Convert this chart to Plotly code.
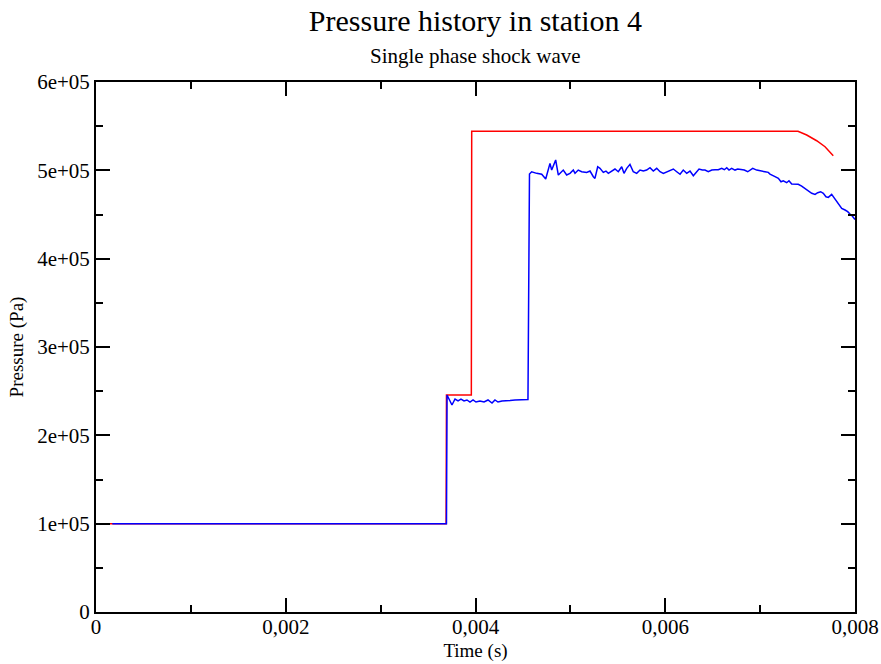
import plotly.graph_objects as go

# Red series (time in s, pressure in Pa)
red_t = [0.000140, 0.003690, 0.003694, 0.003956, 0.003960, 0.007399,
         0.007491, 0.007596, 0.007684, 0.007771]
red_p = [1.000e5, 1.000e5, 2.457e5, 2.457e5, 5.443e5, 5.443e5,
         5.400e5, 5.335e5, 5.267e5, 5.165e5]

# Blue series (time in s, pressure in Pa)
blue_t = [0.000172, 0.003694, 0.003700, 0.003752, 0.003784, 0.003816, 0.003847, 0.003879,
          0.003910, 0.003942, 0.003974, 0.004005, 0.004047, 0.004090, 0.004132, 0.004174,
          0.004205, 0.004237, 0.004279, 0.004321, 0.004364, 0.004416, 0.004469, 0.004522,
          0.004553, 0.004569, 0.004592, 0.004645, 0.004698, 0.004740, 0.004785, 0.004803,
          0.004845, 0.004873, 0.004925, 0.004961, 0.004996, 0.005031, 0.005049, 0.005083,
          0.005119, 0.005172, 0.005207, 0.005242, 0.005259, 0.005288, 0.005312, 0.005347,
          0.005375, 0.005400, 0.005435, 0.005470, 0.005505, 0.005541, 0.005565, 0.005594,
          0.005628, 0.005663, 0.005699, 0.005734, 0.005769, 0.005804, 0.005839, 0.005874,
          0.005910, 0.005945, 0.005980, 0.006015, 0.006050, 0.006085, 0.006121, 0.006156,
          0.006190, 0.006226, 0.006261, 0.006296, 0.006332, 0.006356, 0.006391, 0.006419,
          0.006454, 0.006490, 0.006525, 0.006559, 0.006595, 0.006623, 0.006648, 0.006672,
          0.006700, 0.006735, 0.006764, 0.006798, 0.006833, 0.006869, 0.006893, 0.006922,
          0.006964, 0.006999, 0.007051, 0.007086, 0.007104, 0.007157, 0.007192, 0.007220,
          0.007244, 0.007280, 0.007304, 0.007333, 0.007368, 0.007402, 0.007438, 0.007473,
          0.007508, 0.007544, 0.007579, 0.007607, 0.007638, 0.007666, 0.007694, 0.007719,
          0.007754, 0.007789, 0.007824, 0.007860, 0.007895, 0.007923, 0.007947, 0.007971,
          0.008000]
blue_p = [1.000e5, 1.000e5, 2.457e5, 2.343e5, 2.411e5, 2.389e5, 2.411e5, 2.389e5,
          2.400e5, 2.377e5, 2.400e5, 2.377e5, 2.389e5, 2.377e5, 2.400e5, 2.366e5,
          2.400e5, 2.377e5, 2.389e5, 2.389e5, 2.394e5, 2.400e5, 2.400e5, 2.405e5,
          2.405e5, 4.958e5, 4.984e5, 4.966e5, 4.955e5, 4.902e5, 5.079e5, 5.003e5,
          5.117e5, 4.947e5, 5.003e5, 4.947e5, 4.966e5, 5.003e5, 4.966e5, 5.003e5,
          4.984e5, 4.977e5, 4.992e5, 4.928e5, 4.909e5, 5.041e5, 5.023e5, 4.977e5,
          4.992e5, 4.966e5, 4.992e5, 5.015e5, 4.984e5, 5.041e5, 4.966e5, 5.023e5,
          5.068e5, 4.984e5, 4.966e5, 5.003e5, 4.992e5, 5.003e5, 5.030e5, 4.992e5,
          5.023e5, 4.984e5, 4.966e5, 4.984e5, 5.003e5, 5.015e5, 4.984e5, 4.955e5,
          5.003e5, 4.966e5, 4.992e5, 4.939e5, 4.984e5, 5.015e5, 5.003e5, 5.003e5,
          4.984e5, 5.003e5, 5.007e5, 5.007e5, 5.023e5, 5.007e5, 5.030e5, 5.003e5,
          5.023e5, 5.003e5, 5.015e5, 5.007e5, 5.003e5, 4.984e5, 5.003e5, 5.023e5,
          5.003e5, 4.992e5, 4.984e5, 4.977e5, 4.958e5, 4.928e5, 4.909e5, 4.871e5,
          4.882e5, 4.860e5, 4.882e5, 4.845e5, 4.845e5, 4.842e5, 4.822e5, 4.796e5,
          4.769e5, 4.740e5, 4.728e5, 4.747e5, 4.758e5, 4.740e5, 4.701e5, 4.694e5,
          4.728e5, 4.672e5, 4.626e5, 4.570e5, 4.551e5, 4.532e5, 4.505e5, 4.483e5,
          4.443e5]

x_tick_vals = [0, 0.002, 0.004, 0.006, 0.008]
x_tick_labels = ["0", "0,002", "0,004", "0,006", "0,008"]
y_tick_vals = [0, 1e5, 2e5, 3e5, 4e5, 5e5, 6e5]
y_tick_labels = ["0", "1e+05", "2e+05", "3e+05", "4e+05", "5e+05", "6e+05"]

FONT = "Liberation Serif, Times New Roman, serif"

fig = go.Figure()
fig.add_trace(go.Scatter(x=red_t, y=red_p, mode="lines",
                         line=dict(color="#ff0000", width=1.5), showlegend=False))
fig.add_trace(go.Scatter(x=blue_t, y=blue_p, mode="lines",
                         line=dict(color="#0000ff", width=1.5), showlegend=False))

axis_common = dict(showgrid=False, zeroline=False, showline=True, linecolor="black",
                   linewidth=2, mirror="allticks", ticks="inside", ticklen=14,
                   tickwidth=1.5, tickcolor="black", automargin=False,
                   tickfont=dict(family=FONT, size=21, color="black"))

fig.update_xaxes(range=[0, 0.008], tickvals=x_tick_vals, ticktext=x_tick_labels,
                 ticklabelstandoff=-5,
                 minor=dict(ticks="inside", ticklen=7, tickwidth=1.5, tickcolor="black",
                            dtick=0.001, tick0=0),
                 title=dict(text="Time (s)", font=dict(family=FONT, size=19, color="black"),
                            standoff=5),
                 **axis_common)
fig.update_yaxes(range=[0, 6e5], tickvals=y_tick_vals, ticktext=y_tick_labels,
                 minor=dict(ticks="inside", ticklen=7, tickwidth=1.5, tickcolor="black",
                            dtick=5e4, tick0=0),
                 title=dict(text="Pressure (Pa)", font=dict(family=FONT, size=19, color="black"),
                            standoff=8),
                 **axis_common)

fig.update_layout(
    width=881, height=664,
    margin=dict(l=96, r=26, t=82, b=52),
    paper_bgcolor="white", plot_bgcolor="white",
    title=dict(text="Pressure history in station 4", x=0.5397, xanchor="center",
               y=1 - 20 / 664, yanchor="middle",
               font=dict(family=FONT, size=30, color="black")),
    annotations=[dict(text="Single phase shock wave", xref="paper", yref="paper",
                      x=0.5, y=1, xanchor="center", yanchor="middle", yshift=26,
                      showarrow=False, font=dict(family=FONT, size=21, color="black"))],
)

# Remove the default page margin so the 881x664 figure fills the window exactly.
fig.write_html("out.html",
               config={"displayModeBar": False},
               post_script="document.body.style.margin='0';"
                           "document.body.style.overflow='hidden';")
